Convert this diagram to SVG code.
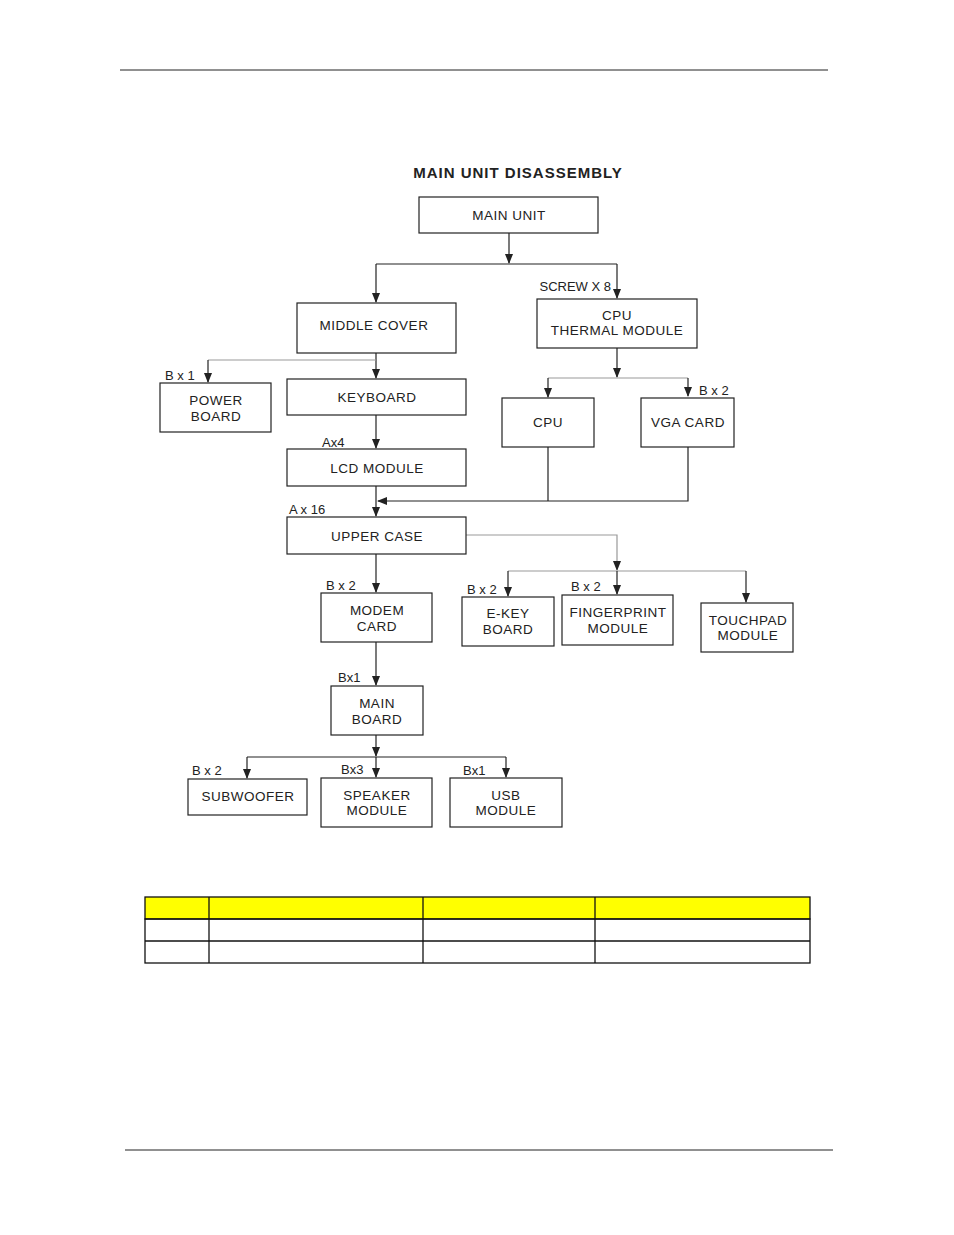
<svg xmlns="http://www.w3.org/2000/svg" width="954" height="1235" viewBox="0 0 954 1235">
<defs>
<marker id="ar" markerWidth="10" markerHeight="10" refX="9" refY="5" orient="auto" markerUnits="userSpaceOnUse"><path d="M0,1 L10,5 L0,9 Z" fill="#222"/></marker>
<style>
.b{fill:#fff;stroke:#222;stroke-width:1.2}
.t{font-family:"Liberation Sans",Arial,sans-serif;font-size:13.5px;fill:#222;text-anchor:middle;letter-spacing:0.5px}
.l{font-family:"Liberation Sans",Arial,sans-serif;font-size:13px;fill:#222}
.c{fill:none;stroke:#222;stroke-width:1.2}
.g{fill:none;stroke:#999;stroke-width:1.2}
</style>
</defs>
<rect width="954" height="1235" fill="#fff"/>
<line x1="120" y1="70" x2="828" y2="70" stroke="#222"/>
<line x1="125" y1="1150" x2="833" y2="1150" stroke="#222"/>
<text x="518" y="178" text-anchor="middle" font-family="Liberation Sans,Arial,sans-serif" font-size="15" font-weight="bold" letter-spacing="1" fill="#222">MAIN UNIT DISASSEMBLY</text>
<g id="connectors">
<path class="c" d="M509,233 V263" marker-end="url(#ar)"/>
<path class="c" d="M376,264 H617"/>
<path class="c" d="M376,264 V302" marker-end="url(#ar)"/>
<path class="c" d="M617,264 V298" marker-end="url(#ar)"/>
<path class="c" d="M376,353 V378" marker-end="url(#ar)"/>
<path class="g" d="M208,360 H376"/>
<path class="c" d="M208,360 V382" marker-end="url(#ar)"/>
<path class="c" d="M376,415 V448" marker-end="url(#ar)"/>
<path class="c" d="M376,486 V516" marker-end="url(#ar)"/>
<path class="c" d="M617,348 V377" marker-end="url(#ar)"/>
<path class="g" d="M548,378 H688"/>
<path class="c" d="M548,378 V397" marker-end="url(#ar)"/>
<path class="c" d="M688,378 V396" marker-end="url(#ar)"/>
<path class="c" d="M548,447 V501 M688,447 V501 H378" marker-end="url(#ar)"/>
<path class="c" d="M376,554 V592" marker-end="url(#ar)"/>
<path class="g" d="M466,535 H617 V570" marker-end="url(#ar)"/>
<path class="g" d="M508,571 H746"/>
<path class="c" d="M508,571 V596" marker-end="url(#ar)"/>
<path class="c" d="M617,571 V594" marker-end="url(#ar)"/>
<path class="c" d="M746,571 V602" marker-end="url(#ar)"/>
<path class="c" d="M376,642 V685" marker-end="url(#ar)"/>
<path class="c" d="M376,735 V756" marker-end="url(#ar)"/>
<path class="c" d="M247,757 H506"/>
<path class="c" d="M247,757 V778" marker-end="url(#ar)"/>
<path class="c" d="M376,757 V777" marker-end="url(#ar)"/>
<path class="c" d="M506,757 V777" marker-end="url(#ar)"/>
</g>
<g id="labels">
<text class="l" x="611" y="291" text-anchor="end">SCREW X 8</text>
<text class="l" x="165" y="380">B x 1</text>
<text class="l" x="699" y="395">B x 2</text>
<text class="l" x="322" y="447">Ax4</text>
<text class="l" x="289" y="514">A x 16</text>
<text class="l" x="326" y="590">B x 2</text>
<text class="l" x="467" y="594">B x 2</text>
<text class="l" x="571" y="591">B x 2</text>
<text class="l" x="338" y="682">Bx1</text>
<text class="l" x="192" y="775">B x 2</text>
<text class="l" x="341" y="774">Bx3</text>
<text class="l" x="463" y="775">Bx1</text>
</g>
<g id="main-unit"><rect class="b" x="419" y="197" width="179" height="36"/><text class="t" x="509" y="220">MAIN    UNIT</text></g>
<g id="middle-cover"><rect class="b" x="297" y="303" width="159" height="50"/><text class="t" x="374" y="330">MIDDLE COVER</text></g>
<g id="cpu-thermal"><rect class="b" x="537" y="299" width="160" height="49"/><text class="t" x="617" y="320">CPU</text><text class="t" x="617" y="335">THERMAL MODULE</text></g>
<g id="power-board"><rect class="b" x="160" y="383" width="111" height="49"/><text class="t" x="216" y="405">POWER</text><text class="t" x="216" y="421">BOARD</text></g>
<g id="keyboard"><rect class="b" x="287" y="379" width="179" height="36"/><text class="t" x="377" y="402">KEYBOARD</text></g>
<g id="cpu"><rect class="b" x="502" y="398" width="92" height="49"/><text class="t" x="548" y="427">CPU</text></g>
<g id="vga"><rect class="b" x="641" y="398" width="93" height="49"/><text class="t" x="688" y="427">VGA CARD</text></g>
<g id="lcd"><rect class="b" x="287" y="449" width="179" height="37"/><text class="t" x="377" y="473">LCD  MODULE</text></g>
<g id="upper-case"><rect class="b" x="287" y="517" width="179" height="37"/><text class="t" x="377" y="541">UPPER  CASE</text></g>
<g id="modem"><rect class="b" x="321" y="593" width="111" height="49"/><text class="t" x="377" y="615">MODEM</text><text class="t" x="377" y="631">CARD</text></g>
<g id="ekey"><rect class="b" x="462" y="597" width="92" height="49"/><text class="t" x="508" y="618">E-KEY</text><text class="t" x="508" y="634">BOARD</text></g>
<g id="fingerprint"><rect class="b" x="562" y="595" width="111" height="50"/><text class="t" x="618" y="617">FINGERPRINT</text><text class="t" x="618" y="633">MODULE</text></g>
<g id="touchpad"><rect class="b" x="701" y="603" width="92" height="49"/><text class="t" x="748" y="625">TOUCHPAD</text><text class="t" x="748" y="640">MODULE</text></g>
<g id="main-board"><rect class="b" x="331" y="686" width="92" height="49"/><text class="t" x="377" y="708">MAIN</text><text class="t" x="377" y="724">BOARD</text></g>
<g id="subwoofer"><rect class="b" x="188" y="779" width="119" height="36"/><text class="t" x="248" y="801">SUBWOOFER</text></g>
<g id="speaker"><rect class="b" x="321" y="778" width="111" height="49"/><text class="t" x="377" y="800">SPEAKER</text><text class="t" x="377" y="815">MODULE</text></g>
<g id="usb"><rect class="b" x="450" y="778" width="112" height="49"/><text class="t" x="506" y="800">USB</text><text class="t" x="506" y="815">MODULE</text></g>
<g id="table" stroke="#111" stroke-width="1.3">
<rect x="145" y="897" width="665" height="22" fill="#ffff00"/>
<rect x="145" y="919" width="665" height="44" fill="none"/>
<line x1="145" y1="941" x2="810" y2="941"/>
<line x1="209" y1="897" x2="209" y2="963"/>
<line x1="423" y1="897" x2="423" y2="963"/>
<line x1="595" y1="897" x2="595" y2="963"/>
</g>
</svg>
